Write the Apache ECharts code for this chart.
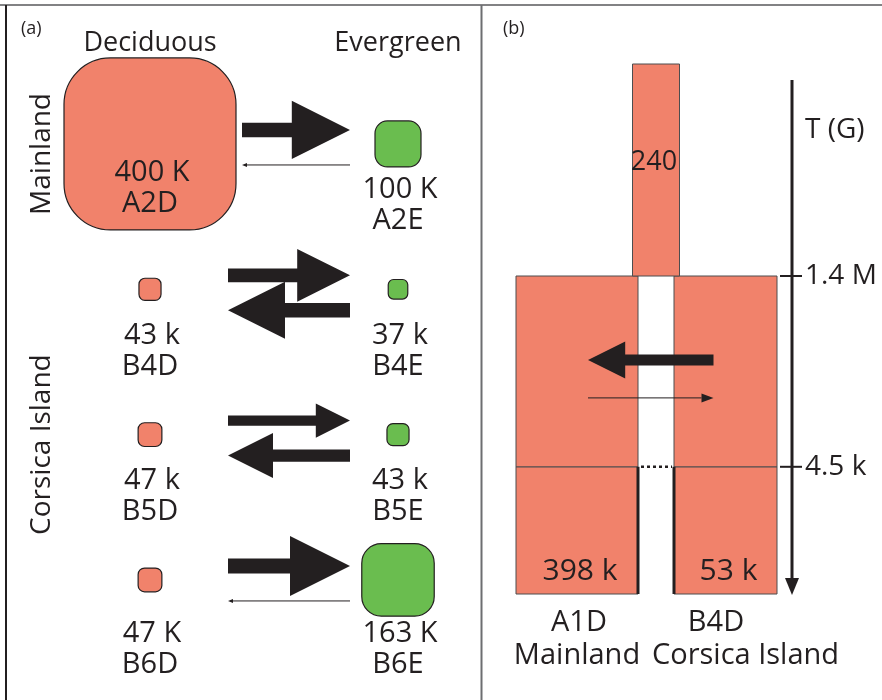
<!DOCTYPE html>
<html>
<head>
<meta charset="utf-8">
<script src="https://cdn.jsdelivr.net/npm/echarts@6/dist/echarts.min.js"></script>
<style>
  html, body { margin: 0; padding: 0; background: #ffffff; }
  #chart { width: 882px; height: 700px; }
</style>
</head>
<body>
<div id="chart"></div>
<script>
// ---- (a) ecotype population sizes, in thousands ----
const ecotypes = ['Deciduous', 'Evergreen'];
const populations = ['A2', 'B4', 'B5', 'B6'];
const deciduousSize = [400, 43, 47, 47];
const evergreenSize = [100, 37, 43, 163];
const deciduousSizeLabel = ['400 K', '43 k', '47 k', '47 K'];
const evergreenSizeLabel = ['100 K', '37 k', '43 k', '163 K'];
// relative gene-flow strength between the ecotypes of each population
const flowDeciduousToEvergreen = [0.97, 0.88, 0.57, 1.0];
const flowEvergreenToDeciduous = [0.02, 0.95, 0.75, 0.02];
const regionLabels = ['Mainland', 'Corsica Island'];
const regionFirstRow = [0, 1];
const regionLastRow = [0, 3];

// ---- (b) two-population divergence model ----
const lineages = ['A1D', 'B4D'];
const lineageRegions = ['Mainland', 'Corsica Island'];
const presentSize = [398, 53];
const presentSizeLabel = ['398 k', '53 k'];
const ancestralSizeLabel = '240';
const splitTimeLabels = ['4.5 k', '1.4 M'];
// gene flow during the split period: [from lineage, to lineage, strength]
const splitFlow = [[1, 0, 0.62], [0, 1, 0.02]];

// ---- styling and schematic layout ----
const SALMON = '#F1826B';
const GREEN = '#6ABD4F';
const INK = '#231F20';
const EDGE = '#4D4D4F';
const FONT = '"Open Sans", "Noto Sans", sans-serif';
const epochDepth = [0.24, 0.6];       // split times on the schematic time axis (0 = present, 1 = top)
const lineageWidth = [122, 103];
const ancestorWidth = 47;
const flowDepth = [0.4415, 0.37];
const axisTopDepth = 0.97;
const axisTitleDepth = 0.875;
const ancestorLabelDepth = 0.815;
const presentLabelDepth = 0.042;

// side of a population box for a size given in thousands
function boxSide(n) { return 4 + 0.42 * n; }

function arrowShape(x0, x1, y, w) {
  const dir = x1 > x0 ? 1 : -1;
  if (w < 0.1) {
    return null;
  }
  const L = 60 * w, h = 30 * w, t = 4 + 11 * w;
  const b = x1 - dir * L;
  return [[x0, y - t / 2], [b, y - t / 2], [b, y - h], [x1, y], [b, y + h], [b, y + t / 2], [x0, y + t / 2]];
}

function arrowElements(x0, x1, y, w, thinHead) {
  const pts = arrowShape(x0, x1, y, w);
  if (pts) {
    return [{ type: 'polygon', shape: { points: pts }, style: { fill: INK } }];
  }
  const dir = x1 > x0 ? 1 : -1;
  const b = x1 - dir * thinHead[0];
  return [
    { type: 'line', shape: { x1: x0, y1: y, x2: b, y2: y }, style: { stroke: INK, lineWidth: 1 } },
    { type: 'polygon', shape: { points: [[b, y - thinHead[1]], [x1, y], [b, y + thinHead[1]]] }, style: { fill: INK } }
  ];
}

function textEl(text, x, y, size, align) {
  return {
    type: 'text',
    style: {
      text: text, x: x, y: y, fill: INK, fontSize: size, fontFamily: FONT,
      align: align || 'center', verticalAlign: 'middle'
    }
  };
}

// ---- (a) series ----
const boxData = [];
populations.forEach((p, i) => {
  boxData.push([0, i, deciduousSize[i]]);
  boxData.push([1, i, evergreenSize[i]]);
});

function rowLabelOffset(i) {
  const sides = [boxSide(deciduousSize[i]), boxSide(evergreenSize[i])].filter(s => s <= 120);
  return Math.max(46, Math.max.apply(null, sides) / 2 + 18);
}

const boxSeries = {
  type: 'custom',
  name: 'population size',
  coordinateSystem: 'cartesian2d',
  xAxisIndex: 0, yAxisIndex: 0,
  clip: false,
  silent: true,
  data: boxData,
  encode: { x: 0, y: 1 },
  renderItem(params, api) {
    const j = api.value(0), i = api.value(1), n = api.value(2);
    const c = api.coord([j, i]);
    const s = boxSide(n);
    const inside = s > 120;
    const off = inside ? 29 : rowLabelOffset(i);
    const name = populations[i] + (j === 0 ? 'D' : 'E');
    const sizeText = (j === 0 ? deciduousSizeLabel : evergreenSizeLabel)[i];
    return {
      type: 'group',
      children: [
        { type: 'rect', shape: { x: c[0] - s / 2, y: c[1] - s / 2, width: s, height: s, r: s * 0.27 },
          style: { fill: j === 0 ? SALMON : GREEN, stroke: INK, lineWidth: 1.2 } },
        textEl(sizeText, c[0] + 2, c[1] + off, 29),
        textEl(name, c[0], c[1] + off + 31, 29)
      ]
    };
  }
};

const flowSeries = {
  type: 'custom',
  name: 'gene flow',
  coordinateSystem: 'cartesian2d',
  xAxisIndex: 0, yAxisIndex: 0,
  clip: false,
  silent: true,
  data: populations.map((p, i) => [0, i, flowDeciduousToEvergreen[i], flowEvergreenToDeciduous[i]]),
  encode: { x: 0, y: 1 },
  renderItem(params, api) {
    const i = api.value(1);
    const d = api.coord([0, i]);
    const e = api.coord([1, i]);
    const xl = d[0] + Math.max(78, boxSide(deciduousSize[i]) / 2 + 6);
    const xr = e[0] - 48;
    return {
      type: 'group',
      children: arrowElements(xl, xr, d[1] - 14, api.value(2), [5, 2])
        .concat(arrowElements(xr, xl, d[1] + 21, api.value(3), [5, 2]))
    };
  }
};

const regionSeries = {
  type: 'custom',
  name: 'region',
  coordinateSystem: 'cartesian2d',
  xAxisIndex: 0, yAxisIndex: 0,
  clip: false,
  silent: true,
  data: regionLabels.map((r, k) => [0, regionFirstRow[k], regionLastRow[k]]),
  encode: { x: 0, y: 1 },
  renderItem(params, api) {
    const a = api.coord([0, api.value(1)]);
    const b = api.coord([0, api.value(2)]);
    return {
      type: 'text',
      x: a[0] - 108,
      y: (a[1] + b[1]) / 2 + 10,
      rotation: Math.PI / 2,
      style: {
        text: regionLabels[params.dataIndex], x: 0, y: 0, fill: INK,
        fontSize: 28, fontFamily: FONT, align: 'center', verticalAlign: 'middle'
      }
    };
  }
};

// ---- (b) series ----
function lineageRect(api, k) {
  const c = api.coord([k, 0]);
  return { left: c[0] - lineageWidth[k] / 2, right: c[0] + lineageWidth[k] / 2, center: c[0] };
}

const lineageSeries = {
  type: 'custom',
  name: 'lineages',
  coordinateSystem: 'cartesian2d',
  xAxisIndex: 1, yAxisIndex: 1,
  clip: false,
  silent: true,
  data: lineages.map((l, k) => [k, 0, epochDepth[1], presentSize[k]]),
  encode: { x: 0, y: 1 },
  renderItem(params, api) {
    const k = api.value(0);
    const r = lineageRect(api, k);
    const y0 = api.coord([k, api.value(1)])[1];
    const y1 = api.coord([k, api.value(2)])[1];
    const yr = api.coord([k, epochDepth[0]])[1];
    const yl = api.coord([k, presentLabelDepth])[1];
    return {
      type: 'group',
      children: [
        { type: 'rect', shape: { x: r.left, y: y1, width: r.right - r.left, height: y0 - y1 },
          style: { fill: SALMON, stroke: EDGE, lineWidth: 1 } },
        { type: 'line', shape: { x1: r.left, y1: yr, x2: r.right, y2: yr }, style: { stroke: EDGE, lineWidth: 1.2 } },
        textEl(presentSizeLabel[k], r.center + 3, yl, 30)
      ]
    };
  }
};

const ancestorSeries = {
  type: 'custom',
  name: 'ancestor',
  coordinateSystem: 'cartesian2d',
  xAxisIndex: 1, yAxisIndex: 1,
  clip: false,
  silent: true,
  data: [[0, epochDepth[1], 1]],
  encode: { x: 0, y: 1 },
  renderItem(params, api) {
    const a = lineageRect(api, 0), b = lineageRect(api, 1);
    const cx = (a.right + b.left) / 2;
    const y0 = api.coord([0, api.value(1)])[1];
    const y1 = api.coord([0, api.value(2)])[1];
    const yl = api.coord([0, ancestorLabelDepth])[1];
    return {
      type: 'group',
      children: [
        { type: 'rect', shape: { x: cx - ancestorWidth / 2, y: y1, width: ancestorWidth, height: y0 - y1 },
          style: { fill: SALMON, stroke: EDGE, lineWidth: 1 } },
        textEl(ancestralSizeLabel, cx - 2, yl, 27)
      ]
    };
  }
};

const isolationSeries = {
  type: 'custom',
  name: 'isolation',
  coordinateSystem: 'cartesian2d',
  xAxisIndex: 1, yAxisIndex: 1,
  clip: false,
  silent: true,
  data: [[0, 0, epochDepth[0]]],
  encode: { x: 0, y: 1 },
  renderItem(params, api) {
    const a = lineageRect(api, 0), b = lineageRect(api, 1);
    const y0 = api.coord([0, api.value(1)])[1];
    const y1 = api.coord([0, api.value(2)])[1];
    return {
      type: 'group',
      children: [
        { type: 'line', shape: { x1: a.right, y1: y1, x2: a.right, y2: y0 }, style: { stroke: INK, lineWidth: 3 } },
        { type: 'line', shape: { x1: b.left, y1: y1, x2: b.left, y2: y0 }, style: { stroke: INK, lineWidth: 3 } },
        { type: 'line', shape: { x1: a.right + 3, y1: y1, x2: b.left - 2, y2: y1 },
          style: { stroke: INK, lineWidth: 2.5, lineDash: [3, 3] } }
      ]
    };
  }
};

const splitFlowSeries = {
  type: 'custom',
  name: 'split gene flow',
  coordinateSystem: 'cartesian2d',
  xAxisIndex: 1, yAxisIndex: 1,
  clip: false,
  silent: true,
  data: splitFlow.map((f, i) => [f[0], flowDepth[i], f[1], f[2]]),
  encode: { x: 0, y: 1 },
  renderItem(params, api) {
    const from = api.value(0), to = api.value(2);
    const ca = api.coord([0, 0])[0], cb = api.coord([1, 0])[0];
    const ends = [ca + 11, cb - 12];
    const y = api.coord([from, api.value(1)])[1];
    return { type: 'group', children: arrowElements(ends[from], ends[to], y, api.value(3), [12, 4.5]) };
  }
};

const timeAxisSeries = {
  type: 'custom',
  name: 'T (G)',
  coordinateSystem: 'cartesian2d',
  xAxisIndex: 1, yAxisIndex: 1,
  clip: false,
  silent: true,
  data: splitTimeLabels.map((t, i) => [1, epochDepth[i]]),
  encode: { x: 0, y: 1 },
  renderItem(params, api) {
    const b = lineageRect(api, 1);
    const x = b.right + 15;
    const y = api.coord([1, api.value(1)])[1];
    const children = [
      { type: 'line', shape: { x1: x - 12, y1: y, x2: x + 10, y2: y }, style: { stroke: INK, lineWidth: 2 } },
      textEl(splitTimeLabels[params.dataIndex], x + 13, y, 28, 'left')
    ];
    if (params.dataIndex === 0) {
      const yTop = api.coord([1, axisTopDepth])[1];
      const yEnd = api.coord([1, 0])[1] + 1;
      children.push(
        { type: 'line', shape: { x1: x, y1: yTop, x2: x, y2: yEnd - 14 }, style: { stroke: INK, lineWidth: 3 } },
        { type: 'polygon', shape: { points: [[x - 7, yEnd - 17], [x + 7, yEnd - 17], [x, yEnd]] }, style: { fill: INK } },
        textEl('T (G)', x + 13, api.coord([1, axisTitleDepth])[1], 28, 'left')
      );
    }
    return { type: 'group', children: children };
  }
};

const chart = echarts.init(document.getElementById('chart'), null, { renderer: 'canvas' });

chart.setOption({
  animation: false,
  backgroundColor: '#ffffff',
  textStyle: { fontFamily: FONT, color: INK },
  graphic: {
    elements: [
      { type: 'line', silent: true, shape: { x1: 0, y1: 5, x2: 882, y2: 5 }, style: { stroke: '#58595B', lineWidth: 1.5 } },
      { type: 'line', silent: true, shape: { x1: 6, y1: 5, x2: 6, y2: 700 }, style: { stroke: INK, lineWidth: 2 } },
      { type: 'line', silent: true, shape: { x1: 481.5, y1: 5, x2: 481.5, y2: 700 }, style: { stroke: '#6D6E71', lineWidth: 2 } },
      { type: 'text', silent: true, x: 21, y: 29, style: { text: '(a)', fill: INK, fontSize: 18, fontFamily: FONT, verticalAlign: 'middle' } },
      { type: 'text', silent: true, x: 503, y: 29, style: { text: '(b)', fill: INK, fontSize: 18, fontFamily: FONT, verticalAlign: 'middle' } }
    ]
  },
  grid: [
    { left: 26, top: 71.3, width: 496, height: 581.3 },
    { left: 502.75, top: 64, width: 297, height: 530 }
  ],
  xAxis: [
    {
      type: 'category', gridIndex: 0, data: ecotypes, position: 'top',
      axisLine: { show: false }, axisTick: { show: false }, splitLine: { show: false },
      axisLabel: { interval: 0, margin: 14, fontSize: 27, color: INK, fontFamily: FONT }
    },
    {
      type: 'category', gridIndex: 1, data: lineages, position: 'bottom',
      axisLine: { show: false }, axisTick: { show: false }, splitLine: { show: false },
      axisLabel: {
        interval: 0, margin: 12, color: INK, fontFamily: FONT,
        formatter: (v, i) => '{id' + i + '|' + v + '}\n{reg' + i + '|' + lineageRegions[i] + '}',
        rich: {
          id0: { fontSize: 29, lineHeight: 33, fontFamily: FONT, color: INK, padding: [0, 0, 0, 4] },
          id1: { fontSize: 29, lineHeight: 33, fontFamily: FONT, color: INK, padding: [0, 19, 0, 0] },
          reg0: { fontSize: 29, lineHeight: 33, fontFamily: FONT, color: INK },
          reg1: { fontSize: 29, lineHeight: 33, fontFamily: FONT, color: INK, padding: [0, 0, 0, 40] }
        }
      }
    }
  ],
  yAxis: [
    { type: 'category', gridIndex: 0, data: populations, inverse: true, show: false },
    { type: 'value', gridIndex: 1, min: 0, max: 1, show: false }
  ],
  series: [
    boxSeries, flowSeries, regionSeries,
    lineageSeries, ancestorSeries, isolationSeries, splitFlowSeries, timeAxisSeries
  ]
});
</script>
</body>
</html>
